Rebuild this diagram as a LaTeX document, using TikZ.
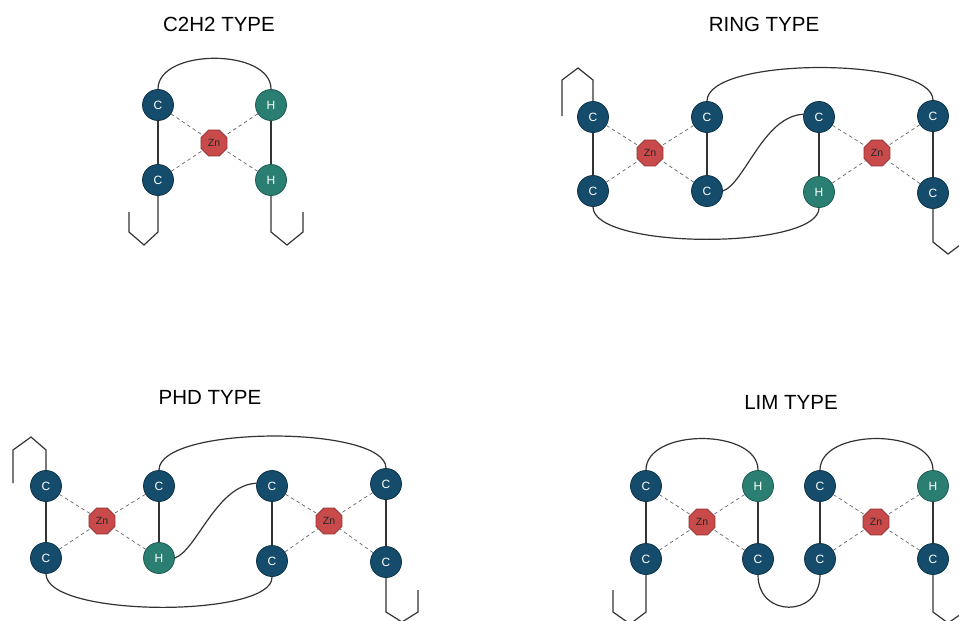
\documentclass[tikz,border=0pt]{standalone}
\usepackage{fontspec}
\setmainfont{Liberation Sans}
\usetikzlibrary{shapes.geometric}
\definecolor{cfill}{HTML}{154C6B}
\definecolor{cedge}{HTML}{0C3249}
\definecolor{hfill}{HTML}{2A7F72}
\definecolor{hedge}{HTML}{1C5C52}
\definecolor{znfill}{HTML}{C94A4A}
\definecolor{znedge}{HTML}{8E2E2E}
\definecolor{strand}{HTML}{333333}
\tikzset{
  atom/.style={circle, minimum size=31pt, inner sep=0pt, line width=0.8pt,
    text=white, font=\fontsize{12}{13}\selectfont},
  cnode/.style={atom, fill=cfill, draw=cedge},
  hnode/.style={atom, fill=hfill, draw=hedge},
  znnode/.style={regular polygon, regular polygon sides=8, minimum size=28pt,
    inner sep=0pt, fill=znfill, draw=znedge, line width=0.7pt,
    text=black!85, font=\fontsize{10.5}{11}\selectfont},
  bond/.style={draw=strand, line width=1.1pt},
  loopline/.style={draw=strand, line width=1.2pt},
  coord/.style={draw=black!60, line width=0.7pt, dash pattern=on 3.5pt off 3pt},
  title/.style={font=\fontsize{20.5}{24}\selectfont, text=black}
}
\begin{document}
\begin{tikzpicture}[x=1pt, y=-1pt]
\useasboundingbox (0,0) rectangle (959,621);
\clip (0,0) rectangle (959,621);

% ---------------- C2H2 type ----------------
\node[title] (t1) at (219,24) {C2H2 TYPE};
\node[cnode] (a1) at (158,105) {C};
\node[hnode] (a2) at (271,105) {H};
\node[cnode] (a3) at (158,180) {C};
\node[hnode] (a4) at (271,180) {H};
\node[znnode] (az) at (214,143) {Zn};
\foreach \n in {a1,a2,a3,a4} \draw[coord] (\n) -- (az);
\draw[bond] (a1) -- (a3);
\draw[bond] (a2) -- (a4);
\draw[loopline] (a1.north) .. controls (158,48) and (271,48) .. (a2.north);
\coordinate (a3end) at (129,212);
\coordinate (a4end) at (303,212);
\draw[loopline] (a3.south) -- (158,232) -- (144,245) -- (129,232) -- (a3end);
\draw[loopline] (a4.south) -- (271,232) -- (287,245) -- (303,232) -- (a4end);

% ---------------- RING type ----------------
\node[title] (t2) at (764,24) {RING TYPE};
\node[cnode] (r1) at (593,117) {C};
\node[cnode] (r2) at (707,117) {C};
\node[cnode] (r3) at (819,117) {C};
\node[cnode] (r4) at (933,116) {C};
\node[cnode] (r5) at (593,191) {C};
\node[cnode] (r6) at (707,191) {C};
\node[hnode] (r7) at (819,192) {H};
\node[cnode] (r8) at (933,193) {C};
\node[znnode] (rz1) at (650,153) {Zn};
\node[znnode] (rz2) at (877,153) {Zn};
\foreach \n in {r1,r2,r5,r6} \draw[coord] (\n) -- (rz1);
\foreach \n in {r3,r4,r7,r8} \draw[coord] (\n) -- (rz2);
\draw[bond] (r1) -- (r5);
\draw[bond] (r2) -- (r6);
\draw[bond] (r3) -- (r7);
\draw[bond] (r4) -- (r8);
\draw[loopline] (r2.north) .. controls (707,56) and (933,57) .. (r4.north);
\draw[loopline] (r5.south) .. controls (593,250) and (819,250) .. (r7.south);
\draw[loopline] (r6.east) .. controls +(22,-8) and +(-40,2) .. (r3.170);
\coordinate (r1end) at (562,116);
\coordinate (r8end) at (964,225);
\draw[loopline] (r1.north) -- (593,80) -- (578,68) -- (562,80) -- (r1end);
\draw[loopline] (r8.south) -- (933,242) -- (948,254) -- (964,242) -- (r8end);

% ---------------- PHD type ----------------
\node[title] (t3) at (210,397) {PHD TYPE};
\node[cnode] (p1) at (46,486) {C};
\node[cnode] (p2) at (159,486) {C};
\node[cnode] (p3) at (272,486) {C};
\node[cnode] (p4) at (386,484) {C};
\node[cnode] (p5) at (46,558) {C};
\node[hnode] (p6) at (159,558) {H};
\node[cnode] (p7) at (272,561) {C};
\node[cnode] (p8) at (386,562) {C};
\node[znnode] (pz1) at (102,521) {Zn};
\node[znnode] (pz2) at (329,521) {Zn};
\foreach \n in {p1,p2,p5,p6} \draw[coord] (\n) -- (pz1);
\foreach \n in {p3,p4,p7,p8} \draw[coord] (\n) -- (pz2);
\draw[bond] (p1) -- (p5);
\draw[bond] (p2) -- (p6);
\draw[bond] (p3) -- (p7);
\draw[bond] (p4) -- (p8);
\draw[loopline] (p2.north) .. controls (159,425) and (386,425) .. (p4.north);
\draw[loopline] (p5.south) .. controls (46,618) and (274,618) .. (p7.south);
\draw[loopline] (p6.east) .. controls +(22,-8) and +(-40,2) .. (p3.170);
\coordinate (p1end) at (13,483);
\coordinate (p8end) at (418,590);
\draw[loopline] (p1.north) -- (46,450) -- (31,437) -- (13,450) -- (p1end);
\draw[loopline] (p8.south) -- (386,612) -- (402,622) -- (418,612) -- (p8end);

% ---------------- LIM type ----------------
\node[title] (t4) at (791,402) {LIM TYPE};
\node[cnode] (l1) at (646,486) {C};
\node[hnode] (l2) at (758,486) {H};
\node[cnode] (l3) at (820,486) {C};
\node[hnode] (l4) at (933,486) {H};
\node[cnode] (l5) at (646,559) {C};
\node[cnode] (l6) at (758,559) {C};
\node[cnode] (l7) at (820,559) {C};
\node[cnode] (l8) at (933,559) {C};
\node[znnode] (lz1) at (702,522) {Zn};
\node[znnode] (lz2) at (876,522) {Zn};
\foreach \n in {l1,l2,l5,l6} \draw[coord] (\n) -- (lz1);
\foreach \n in {l3,l4,l7,l8} \draw[coord] (\n) -- (lz2);
\draw[bond] (l1) -- (l5);
\draw[bond] (l2) -- (l6);
\draw[bond] (l3) -- (l7);
\draw[bond] (l4) -- (l8);
\draw[loopline] (l1.north) .. controls (646,428) and (758,428) .. (l2.north);
\draw[loopline] (l3.north) .. controls (820,428) and (933,428) .. (l4.north);
\draw[loopline] (l6.south) .. controls (758,618) and (820,618) .. (l7.south);
\coordinate (l5end) at (613,590);
\coordinate (l8end) at (964,600);
\draw[loopline] (l5.south) -- (646,612) -- (630,624) -- (613,612) -- (l5end);
\draw[loopline] (l8.south) -- (933,612) -- (948,623) -- (964,612) -- (l8end);
\end{tikzpicture}
\end{document}
